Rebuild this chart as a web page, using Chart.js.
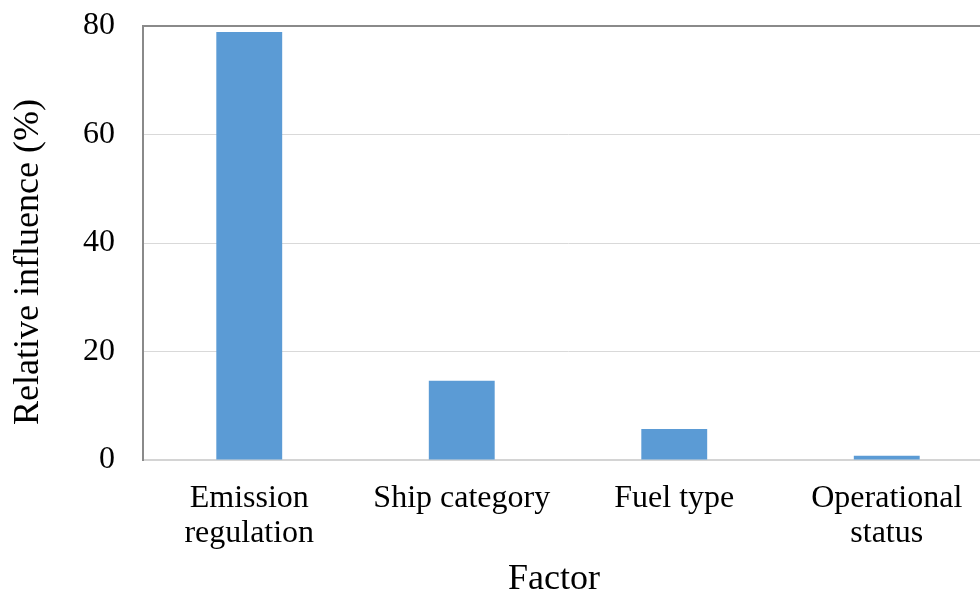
<!DOCTYPE html>
<html>
<head>
<meta charset="utf-8">
<title>Relative influence by factor</title>
<script src="https://cdn.jsdelivr.net/npm/chart.js@4/dist/chart.umd.min.js"></script>
<style>
  html, body { margin: 0; padding: 0; background: #ffffff; overflow: hidden; }
  #wrap { width: 980px; height: 596px; overflow: hidden; }
  canvas { display: block; }
</style>
</head>
<body>
<div id="wrap"><canvas id="chart" width="1000" height="596"></canvas></div>
<script>
// Factors and their relative influence (%)
const factors = [
  ['Emission', 'regulation'],
  'Ship category',
  'Fuel type',
  ['Operational', 'status']
];
const influence = [78.9, 14.6, 5.7, 0.8];
const yTicks = [0, 20, 40, 60, 80];
const xTitle = 'Factor';
const yTitle = 'Relative influence (%)';

const serif = '"Liberation Serif", "Times New Roman", Times, serif';

// Axis captions, placed like the office-style chart layout
const axisCaptions = {
  id: 'axisCaptions',
  afterDraw(chart) {
    const { ctx } = chart;
    ctx.save();
    ctx.fillStyle = '#000000';
    ctx.font = '36px ' + serif;
    ctx.textAlign = 'center';
    ctx.textBaseline = 'middle';
    ctx.fillText(xTitle, 554, 580);
    ctx.translate(29, 262);
    ctx.rotate(-Math.PI / 2);
    ctx.fillText(yTitle, 0, 0);
    ctx.restore();
  }
};

new Chart(document.getElementById('chart'), {
  type: 'bar',
  data: {
    labels: factors,
    datasets: [{
      data: influence,
      backgroundColor: '#5b9bd5',
      borderWidth: 0,
      categoryPercentage: 1,
      barPercentage: 0.31
    }]
  },
  plugins: [axisCaptions],
  options: {
    responsive: false,
    animation: false,
    layout: { padding: { top: 26, right: 7, left: 0, bottom: 0 } },
    plugins: {
      legend: { display: false },
      tooltip: { enabled: false }
    },
    scales: {
      x: {
        grid: { display: false, drawTicks: false },
        border: { display: true, color: '#d4d4d4', width: 2 },
        ticks: {
          color: '#000000',
          font: { family: serif, size: 32, lineHeight: 1.1 },
          padding: 21,
          maxRotation: 0,
          autoSkip: false
        },
        afterFit(scale) {
          scale.height = 136;
          scale.paddingLeft = 0;
          scale.paddingRight = 0;
        }
      },
      y: {
        min: 0,
        max: 80,
        afterBuildTicks(scale) { scale.ticks = yTicks.map(v => ({ value: v })); },
        grid: {
          drawTicks: false,
          color: c => (c.tick && c.tick.value === 80 ? '#8a8a8a' : '#d9d9d9'),
          lineWidth: c => (c.tick && c.tick.value === 80 ? 2 : 1)
        },
        border: { display: true, color: '#8a8a8a', width: 2 },
        ticks: {
          color: '#000000',
          font: { family: serif, size: 32 },
          padding: 28
        },
        afterFit(scale) {
          scale.width = 143;
          scale.paddingTop = 0;
          scale.paddingBottom = 0;
        }
      }
    }
  }
});
</script>
</body>
</html>
